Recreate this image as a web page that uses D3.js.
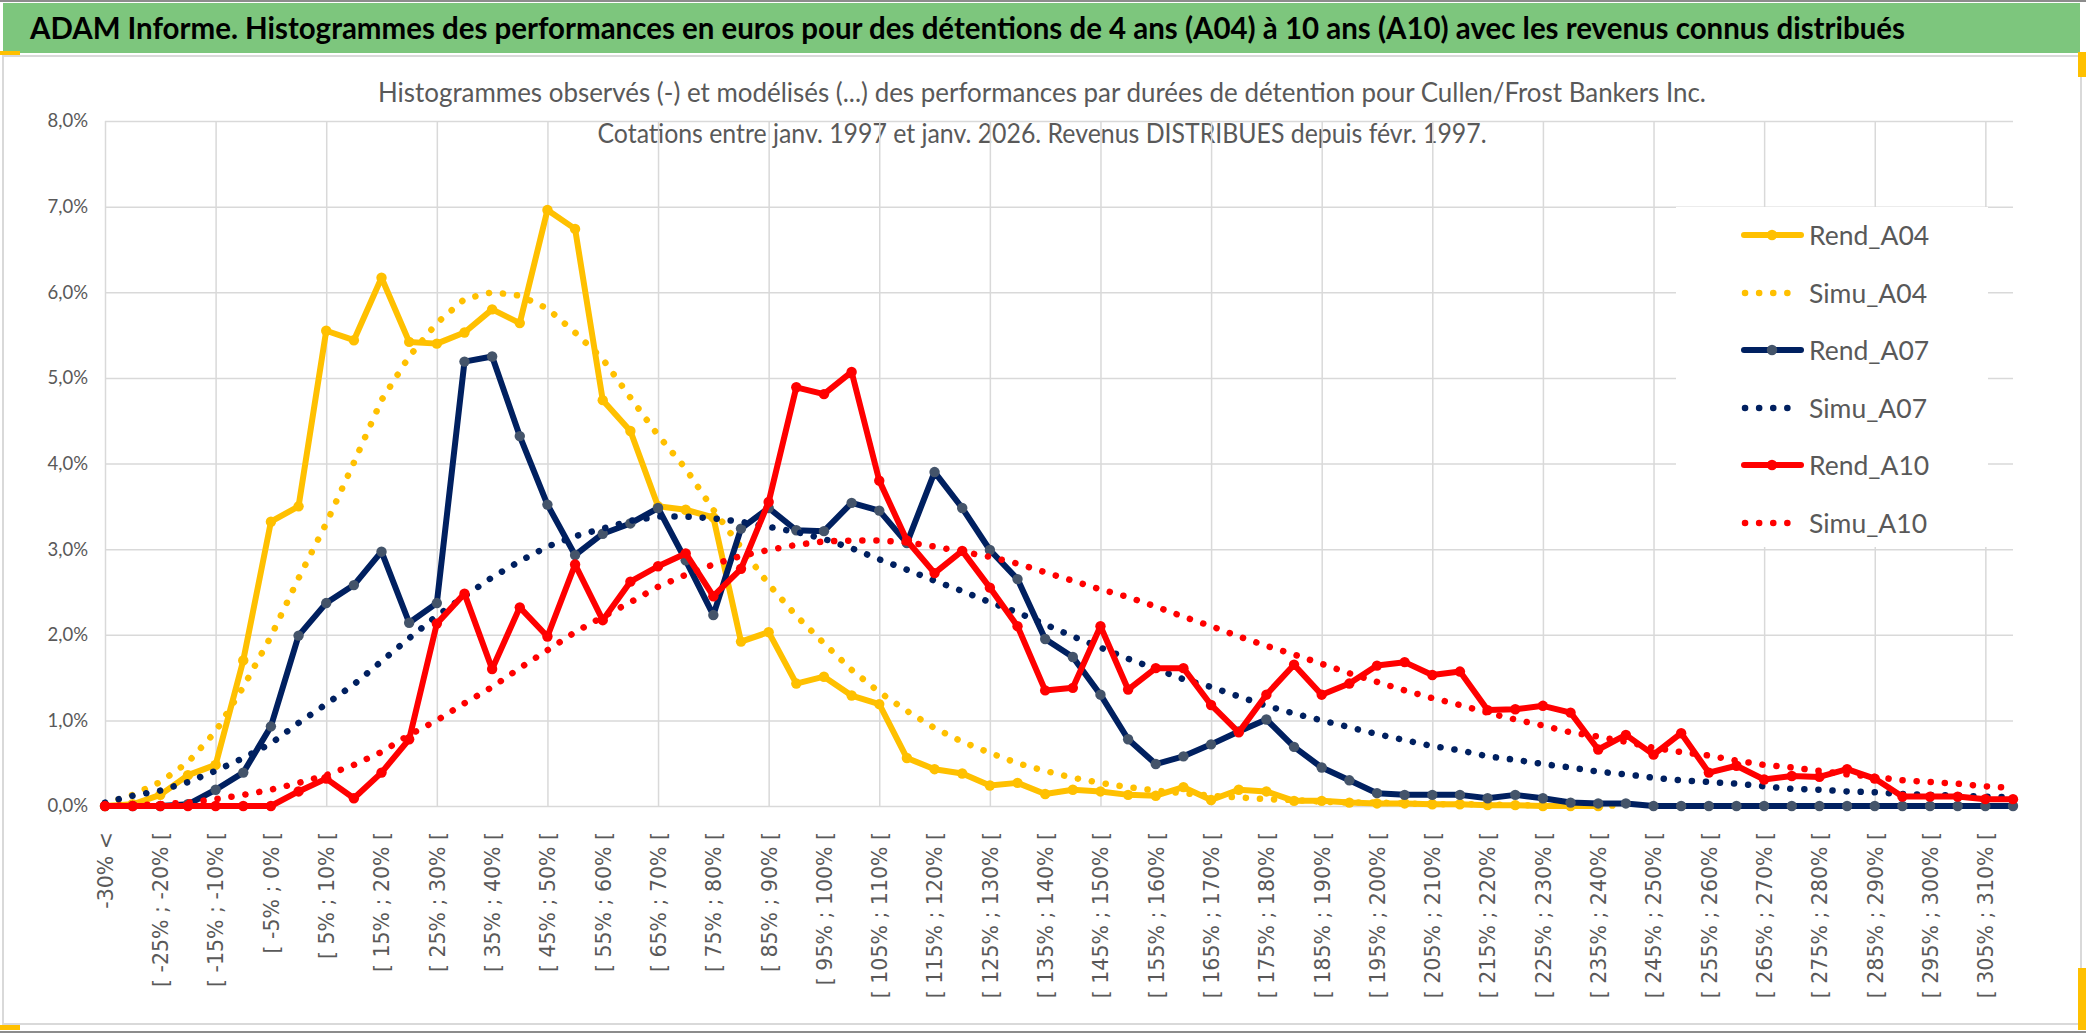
<!DOCTYPE html>
<html>
<head>
<meta charset="utf-8">
<style>
  body { margin: 0; background: #ffffff; }
  svg { display: block; }
  .grid line { stroke: #d9d9d9; stroke-width: 1.5; }
  .grid path { display: none; }
  .ylab text { font-family: Lato, "Open Sans", sans-serif; font-size: 18.5px; fill: #595959; }
  .xlab text { font-family: "DejaVu Sans", sans-serif; font-size: 20.5px; fill: #595959; }
  .ylab path, .xlab path, .ylab line, .xlab line { display: none; }
</style>
<script src="https://d3js.org/d3.v7.min.js"></script>
</head>
<body>
<script>
const W = 2086, H = 1033;

// categories (return bins), every other one is labelled
const categories = ["-30% <", "[ -30% ; -25% [", "[ -25% ; -20% [", "[ -20% ; -15% [", "[ -15% ; -10% [",
  "[ -10% ; -5% [", "[ -5% ; 0% [", "[ 0% ; 5% [", "[ 5% ; 10% [", "[ 10% ; 15% [", "[ 15% ; 20% [",
  "[ 20% ; 25% [", "[ 25% ; 30% [", "[ 30% ; 35% [", "[ 35% ; 40% [", "[ 40% ; 45% [", "[ 45% ; 50% [",
  "[ 50% ; 55% [", "[ 55% ; 60% [", "[ 60% ; 65% [", "[ 65% ; 70% [", "[ 70% ; 75% [", "[ 75% ; 80% [",
  "[ 80% ; 85% [", "[ 85% ; 90% [", "[ 90% ; 95% [", "[ 95% ; 100% [", "[ 100% ; 105% [", "[ 105% ; 110% [",
  "[ 110% ; 115% [", "[ 115% ; 120% [", "[ 120% ; 125% [", "[ 125% ; 130% [", "[ 130% ; 135% [", "[ 135% ; 140% [",
  "[ 140% ; 145% [", "[ 145% ; 150% [", "[ 150% ; 155% [", "[ 155% ; 160% [", "[ 160% ; 165% [", "[ 165% ; 170% [",
  "[ 170% ; 175% [", "[ 175% ; 180% [", "[ 180% ; 185% [", "[ 185% ; 190% [", "[ 190% ; 195% [", "[ 195% ; 200% [",
  "[ 200% ; 205% [", "[ 205% ; 210% [", "[ 210% ; 215% [", "[ 215% ; 220% [", "[ 220% ; 225% [", "[ 225% ; 230% [",
  "[ 230% ; 235% [", "[ 235% ; 240% [", "[ 240% ; 245% [", "[ 245% ; 250% [", "[ 250% ; 255% [", "[ 255% ; 260% [",
  "[ 260% ; 265% [", "[ 265% ; 270% [", "[ 270% ; 275% [", "[ 275% ; 280% [", "[ 280% ; 285% [", "[ 285% ; 290% [",
  "[ 290% ; 295% [", "[ 295% ; 300% [", "[ 300% ; 305% [", "[ 305% ; 310% [", "[ 310% ; 315% ["];

const yTicks = [0, 1, 2, 3, 4, 5, 6, 7, 8];

// values in %
const rendA04 = [0, 0.02, 0.13, 0.36, 0.48, 1.70, 3.32, 3.50, 5.55, 5.44,
  6.17, 5.42, 5.40, 5.53, 5.80, 5.64, 6.96, 6.74, 4.74, 4.38,
  3.50, 3.46, 3.37, 1.92, 2.03, 1.43, 1.51, 1.29, 1.19, 0.56,
  0.43, 0.38, 0.24, 0.27, 0.14, 0.19, 0.17, 0.13, 0.12, 0.22,
  0.07, 0.19, 0.17, 0.06, 0.06, 0.04, 0.03, 0.03, 0.02, 0.02,
  0.01, 0.01, 0.00, 0.00, 0.00, null, null, null, null, null,
  null, null, null, null, null, null, null, null, null, null];

const simuA04 = [0.03, 0.13, 0.28, 0.51, 0.87, 1.39, 1.98, 2.66, 3.30, 4.01,
  4.74, 5.25, 5.64, 5.92, 6.00, 5.96, 5.81, 5.53, 5.22, 4.77,
  4.33, 3.94, 3.46, 3.02, 2.59, 2.22, 1.90, 1.59, 1.33, 1.11,
  0.91, 0.75, 0.62, 0.50, 0.41, 0.33, 0.27, 0.22, 0.18, 0.15,
  0.12, 0.10, 0.08, 0.07, 0.05, 0.04, 0.04, 0.03, 0.02, 0.02,
  0.02, 0.01, 0.01, 0.01, 0.01, 0.00, null, null, null, null,
  null, null, null, null, null, null, null, null, null, null];

const rendA07 = [0, 0, 0, 0.02, 0.19, 0.39, 0.93, 1.99, 2.37, 2.58,
  2.97, 2.14, 2.37, 5.19, 5.25, 4.32, 3.52, 2.93, 3.18, 3.30,
  3.48, 2.87, 2.23, 3.24, 3.48, 3.22, 3.21, 3.54, 3.45, 3.07,
  3.90, 3.48, 2.99, 2.65, 1.95, 1.74, 1.30, 0.78, 0.49, 0.58,
  0.72, 0.87, 1.01, 0.69, 0.45, 0.30, 0.15, 0.13, 0.13, 0.13,
  0.09, 0.13, 0.09, 0.04, 0.03, 0.03, 0, 0, 0, 0,
  0, 0, 0, 0, 0, 0, 0, 0, 0, 0];

const simuA07 = [0.04, 0.12, 0.18, 0.28, 0.41, 0.56, 0.73, 0.97, 1.19, 1.42,
  1.69, 1.96, 2.22, 2.45, 2.67, 2.86, 3.03, 3.15, 3.24, 3.33,
  3.38, 3.38, 3.36, 3.32, 3.26, 3.20, 3.12, 3.01, 2.88, 2.76,
  2.63, 2.51, 2.38, 2.26, 2.12, 1.98, 1.85, 1.72, 1.60, 1.48,
  1.39, 1.28, 1.17, 1.08, 1.00, 0.92, 0.84, 0.77, 0.70, 0.65,
  0.58, 0.54, 0.49, 0.45, 0.40, 0.37, 0.33, 0.30, 0.28, 0.26,
  0.23, 0.20, 0.19, 0.17, 0.16, 0.14, 0.13, 0.12, 0.11, 0.10];

const rendA10 = [0, 0, 0, 0, 0, 0, 0, 0.17, 0.32, 0.09,
  0.39, 0.78, 2.13, 2.48, 1.60, 2.32, 1.98, 2.82, 2.17, 2.62,
  2.80, 2.95, 2.45, 2.77, 3.55, 4.89, 4.81, 5.07, 3.80, 3.10,
  2.72, 2.98, 2.55, 2.10, 1.35, 1.38, 2.10, 1.36, 1.61, 1.61,
  1.18, 0.86, 1.30, 1.65, 1.30, 1.43, 1.64, 1.68, 1.53, 1.57,
  1.12, 1.13, 1.17, 1.09, 0.66, 0.83, 0.60, 0.85, 0.39, 0.47,
  0.31, 0.35, 0.34, 0.43, 0.32, 0.11, 0.11, 0.11, 0.08, 0.08];

const simuA10 = [0.00, 0.01, 0.02, 0.04, 0.08, 0.13, 0.19, 0.27, 0.36, 0.48,
  0.63, 0.83, 1.00, 1.20, 1.39, 1.61, 1.82, 2.03, 2.21, 2.38,
  2.56, 2.70, 2.82, 2.92, 2.99, 3.05, 3.09, 3.10, 3.10, 3.08,
  3.03, 2.97, 2.91, 2.83, 2.73, 2.63, 2.53, 2.44, 2.33, 2.21,
  2.10, 1.98, 1.87, 1.77, 1.66, 1.55, 1.45, 1.35, 1.26, 1.18,
  1.09, 1.01, 0.94, 0.86, 0.81, 0.75, 0.68, 0.63, 0.59, 0.53,
  0.48, 0.45, 0.41, 0.37, 0.34, 0.30, 0.28, 0.26, 0.23, 0.21];

const series = [
  { name: "Rend_A04", values: rendA04, color: "#FFC000", marker: "#FFC000", dotted: false },
  { name: "Simu_A04", values: simuA04, color: "#FFC000", dotted: true },
  { name: "Rend_A07", values: rendA07, color: "#002060", marker: "#44546A", dotted: false },
  { name: "Simu_A07", values: simuA07, color: "#002060", dotted: true },
  { name: "Rend_A10", values: rendA10, color: "#FF0000", marker: "#FF0000", dotted: false },
  { name: "Simu_A10", values: simuA10, color: "#FF0000", dotted: true }
];

const svg = d3.select("body").append("svg")
  .attr("width", W).attr("height", H);

// frame, title bar, chart border
svg.append("rect").attr("x", 0).attr("y", 0).attr("width", W).attr("height", H).attr("fill", "#ffffff");
svg.append("rect").attr("x", 0).attr("y", 0).attr("width", W).attr("height", 2).attr("fill", "#8c8c8c");
svg.append("rect").attr("x", 0).attr("y", H - 2).attr("width", W).attr("height", 2).attr("fill", "#8c8c8c");
svg.append("rect").attr("x", 3).attr("y", 3).attr("width", 2077).attr("height", 50).attr("fill", "#7DC67D");
svg.append("rect").attr("x", 3).attr("y", 56).attr("width", 2078).attr("height", 968)
  .attr("fill", "none").attr("stroke", "#d9d9d9").attr("stroke-width", 2);
svg.append("rect").attr("x", 0).attr("y", 51).attr("width", 20).attr("height", 4).attr("fill", "#FFC000");
svg.append("rect").attr("x", 2078).attr("y", 52).attr("width", 8).attr("height", 25).attr("fill", "#FFC000");
svg.append("rect").attr("x", 0).attr("y", 1025).attr("width", 20).attr("height", 5).attr("fill", "#FFC000");
svg.append("rect").attr("x", 2078).attr("y", 968).attr("width", 8).attr("height", 62).attr("fill", "#FFC000");

svg.append("text")
  .attr("x", 30).attr("y", 39)
  .attr("textLength", 1875).attr("lengthAdjust", "spacingAndGlyphs")
  .style("font-family", "Lato, 'Open Sans', sans-serif")
  .style("font-weight", "bold").style("font-size", "31px").style("fill", "#000000")
  .text("ADAM Informe. Histogrammes des performances en euros pour des détentions de 4 ans (A04) à 10 ans (A10) avec les revenus connus distribués");

const subtitle = [
  "Histogrammes observés (-) et modélisés (...) des performances par durées de détention pour Cullen/Frost Bankers Inc.",
  "Cotations entre janv. 1997 et janv. 2026. Revenus DISTRIBUES depuis févr. 1997."
];
const subLen = [1328, 889];
subtitle.forEach((t, i) => {
  svg.append("text")
    .attr("x", 1042).attr("y", 102 + i * 41)
    .attr("text-anchor", "middle")
    .attr("textLength", subLen[i]).attr("lengthAdjust", "spacingAndGlyphs")
    .style("font-family", "Lato, 'Open Sans', sans-serif")
    .style("font-size", "26px").style("fill", "#595959")
    .text(t);
});

// scales
const plotL = 105, plotR = 2013, plotT = 121, plotB = 806;
const x = d3.scalePoint().domain(categories).range([plotL, plotR]);
const y = d3.scaleLinear().domain([0, 8]).range([plotB, plotT]);

// gridlines
svg.append("g").attr("class", "grid")
  .attr("transform", `translate(${plotL},0)`)
  .call(d3.axisLeft(y).tickValues(yTicks).tickSize(-(plotR - plotL)).tickFormat(""));
svg.append("g").attr("class", "grid")
  .attr("transform", `translate(0,${plotB})`)
  .call(d3.axisBottom(x).tickValues(categories.filter((d, i) => i % 4 === 0)).tickSize(-(plotB - plotT)).tickFormat(""));

// axes labels
svg.append("g").attr("class", "ylab")
  .attr("transform", `translate(${plotL},0)`)
  .call(d3.axisLeft(y).tickValues(yTicks).tickSize(0).tickPadding(17)
    .tickFormat(d => d.toFixed(1).replace(".", ",") + "%"));

const xl = svg.append("g").attr("class", "xlab")
  .attr("transform", `translate(0,${plotB})`)
  .call(d3.axisBottom(x).tickValues(categories.filter((d, i) => i % 2 === 0)).tickSize(0));
xl.selectAll("text")
  .attr("transform", "rotate(-90)")
  .attr("x", -26).attr("y", 0).attr("dy", "0.36em")
  .attr("text-anchor", "end");

// legend box
svg.append("rect").attr("x", 1676).attr("y", 207).attr("width", 312).attr("height", 340).attr("fill", "#ffffff");

// series
const line = d3.line()
  .defined(d => d != null)
  .x((d, i) => x(categories[i]))
  .y(d => y(d));

series.forEach(s => {
  const g = svg.append("g");
  g.append("path")
    .datum(s.values)
    .attr("fill", "none")
    .attr("stroke", s.color)
    .attr("stroke-width", s.dotted ? 6.5 : 6)
    .attr("stroke-linejoin", "round")
    .attr("stroke-linecap", "round")
    .attr("stroke-dasharray", s.dotted ? "0.1 14" : null)
    .attr("d", line);
  if (!s.dotted) {
    g.selectAll("circle")
      .data(s.values.map((v, i) => ({ v, i })).filter(d => d.v != null))
      .enter().append("circle")
      .attr("cx", d => x(categories[d.i]))
      .attr("cy", d => y(d.v))
      .attr("r", 5.2)
      .attr("fill", s.marker);
  }
});

// legend
const legY = [235, 293, 350, 408, 465, 523];
series.forEach((s, i) => {
  const g = svg.append("g").attr("transform", `translate(0,${legY[i]})`);
  if (s.dotted) {
    g.append("line").attr("x1", 1745).attr("x2", s.name === "Simu_A10" ? 1800 : 1790)
      .attr("y1", 0).attr("y2", 0)
      .attr("stroke", s.color).attr("stroke-width", 6.5)
      .attr("stroke-linecap", "round").attr("stroke-dasharray", "0.1 14");
  } else {
    g.append("line").attr("x1", 1744).attr("x2", 1801).attr("y1", 0).attr("y2", 0)
      .attr("stroke", s.color).attr("stroke-width", 6).attr("stroke-linecap", "round");
    g.append("circle").attr("cx", 1772).attr("cy", 0).attr("r", 5.2).attr("fill", s.marker);
  }
  g.append("text")
    .attr("x", 1809).attr("y", 9.5)
    .style("font-family", "Lato, 'Open Sans', sans-serif")
    .style("font-size", "26.5px").style("fill", "#595959")
    .text(s.name);
});
</script>
</body>
</html>
